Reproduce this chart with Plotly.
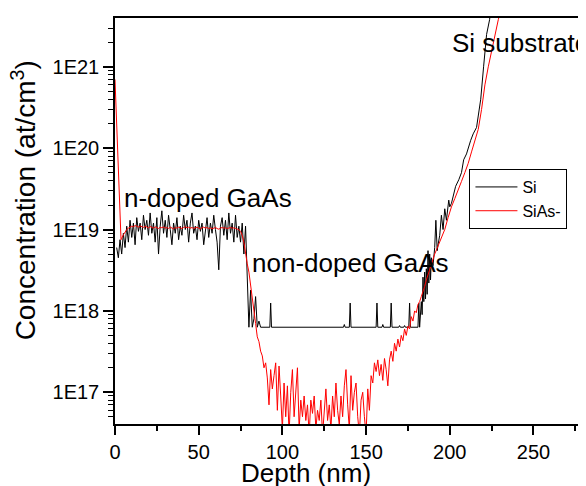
# SIMS depth profile: Si and SiAs- concentration vs depth, log scale
import plotly.graph_objects as go

# --- Si (black) ---
si_depth_doped = list(range(1, 80))
si_conc_doped = [6.0e18, 4.5e18, 7.5e18, 5.0e18, 9.0e18, 6.0e18, 1.1e19, 7.0e18, 1.3e19, 8.0e18,
                 1.2e19, 6.5e18, 1.4e19, 9.5e18, 1.2e19, 7.5e18, 1.5e19, 1.0e19, 1.3e19, 8.5e18,
                 1.6e19, 9.0e18, 1.2e19, 7.0e18, 1.4e19, 5.0e18, 1.1e19, 1.7e19, 9.0e18, 1.3e19,
                 8.0e18, 1.5e19, 1.0e19, 6.5e18, 1.2e19, 9.0e18, 1.4e19, 7.5e18, 1.1e19, 8.5e18,
                 1.5e19, 1.0e19, 1.3e19, 7.0e18, 1.2e19, 1.6e19, 9.0e18, 1.1e19, 7.5e18, 1.3e19,
                 9.5e18, 1.2e19, 6.5e18, 1.0e19, 1.4e19, 8.0e18, 1.2e19, 9.0e18, 1.5e19, 1.0e19,
                 7.0e18, 3.2e18, 1.1e19, 1.4e19, 8.5e18, 1.3e19, 7.5e18, 1.6e19, 9.0e18, 1.2e19,
                 7.0e18, 1.5e19, 8.0e18, 1.1e19, 7.0e18, 1.2e19, 5.0e18, 1.1e19, 3.0e18]

si_depth_floor = [80, 81, 82, 83, 84, 85, 86, 87, 92.5, 93,
                  93.5, 136.5, 137, 137.5, 140, 140.5, 141, 156, 156.5, 157,
                  159.5, 160, 160.5, 164.5, 165, 165.5, 169.5, 170, 170.5, 172.5,
                  173, 173.5, 175.5, 176, 176.5, 181, 181.5, 182]
si_conc_floor = [6.3e17, 1.8e18, 6.3e17, 8.0e17, 1.5e18, 6.3e17, 7.5e17, 6.3e17, 6.3e17, 1.25e18,
                 6.3e17, 6.3e17, 6.8e17, 6.3e17, 6.3e17, 1.25e18, 6.3e17, 6.3e17, 1.25e18, 6.3e17,
                 6.3e17, 6.8e17, 6.3e17, 6.3e17, 1.25e18, 6.3e17, 6.3e17, 6.6e17, 6.3e17, 6.3e17,
                 6.6e17, 6.3e17, 6.3e17, 1.25e18, 6.3e17, 6.3e17, 1.25e18, 6.3e17]

si_depth_rise = [183, 183.5, 184, 184.5, 185, 185.5, 186, 186.5, 187, 187.5,
                 188, 188.5, 189, 190, 191, 191.7, 192.5, 193, 194, 195,
                 196, 197, 198, 199.4, 200, 201, 202, 203.5, 205.4, 207,
                 208.3, 210, 212.5, 214, 216, 218.5, 220.2, 222, 223.8, 226]
si_conc_rise = [1.3e18, 9e17, 2.6e18, 1.3e18, 3.0e18, 1.4e18, 3.3e18, 1.6e18, 5.5e18, 2.2e18,
                5.0e18, 2.4e18, 4.5e18, 3.6e18, 6.0e18, 1.3e19, 5.5e18, 6.5e18, 8.5e18, 1.5e19,
                1.0e19, 1.8e19, 1.3e19, 2.3e19, 1.9e19, 2.1e19, 2.6e19, 3.4e19, 4.1e19, 5.0e19,
                7.2e19, 8.5e19, 1.25e20, 1.5e20, 1.8e20, 4.0e20, 1.0e21, 2.5e21, 3.8e21, 1e22]

# --- SiAs- (red) ---
sias_depth_surface = [0, 3.6]
sias_conc_surface = [7e20, 7.5e18]

sias_depth_main = list(range(4, 196))
sias_conc_main = [7.8e18, 8.6e18, 9.4e18, 1.0e19, 1.04e19, 1.08e19, 1.1e19, 1.08e19, 1.12e19, 1.1e19,
                  1.07e19, 1.11e19, 1.09e19, 1.06e19, 1.1e19, 1.08e19, 1.05e19, 1.09e19, 1.07e19, 1.04e19,
                  1.08e19, 1.06e19, 1.03e19, 1.07e19, 1.05e19, 1.08e19, 1.04e19, 1.06e19, 1.03e19, 1.07e19,
                  1.05e19, 1.02e19, 1.06e19, 1.04e19, 1.07e19, 1.05e19, 1.03e19, 1.06e19, 1.08e19, 1.05e19,
                  1.07e19, 1.04e19, 1.06e19, 1.03e19, 1.05e19, 1.07e19, 1.04e19, 1.02e19, 1.05e19, 1.07e19,
                  1.04e19, 1.06e19, 1.03e19, 1.05e19, 1.02e19, 1.04e19, 1.06e19, 1.03e19, 1.01e19, 1.04e19,
                  1.06e19, 1.04e19, 1.05e19, 1.03e19, 1.05e19, 1.06e19, 1.04e19, 1.05e19, 1.03e19, 1.02e19,
                  # 74-83
                  1.0e19, 9.5e18, 8.5e18, 7.0e18, 5.0e18, 3.8e18, 3.0e18, 2.0e18, 1.5e18, 1.0e18,
                  7e17, 4.8e17, 4.2e17, 3.2e17, 2.8e17, 2.0e17, 2.3e17, 1.5e17, 7e16, 1.9e17,
                  1.1e17, 1.6e17, 2.3e17, 6e16, 2.1e17, 9e16, 3.5e16, 1.3e17, 5e16, 1.2e17,
                  3e16, 1.0e17, 1.9e17, 5e16, 1.1e17, 2.0e17, 3.5e16, 8e16, 5e16, 9e16,
                  4.5e16, 7e16, 3e16, 8e16, 5.5e16, 9e16, 3.5e16, 6e16, 4.5e16, 8e16,
                  3e16, 6e16, 1.1e17, 4.5e16, 7e16, 3.5e16, 9e16, 5e16, 1.3e17, 6e16,
                  4e16, 9e16, 5e16, 1.2e17, 1.9e17, 7e16, 3.5e16, 1.6e17, 6e16, 1.0e17,
                  1.3e17, 5e16, 3e16, 8e16, 1.0e17, 5e16, 3e16, 1.1e17, 6e16, 1.6e17,
                  1.3e17, 2.3e17, 1.8e17, 2.5e17, 1.6e17, 2.2e17, 1.4e17, 2.6e17, 1.9e17, 1.2e17,
                  2.5e17, 3.2e17, 2.4e17, 4.0e17, 3.2e17, 4.5e17, 3.6e17, 5e17, 4.3e17, 6e17,
                  5e17, 6.5e17, 6e17, 8.5e17, 7.5e17, 1.0e18, 9.5e17, 1.2e18, 1.3e18, 1.5e18,
                  1.7e18, 2.0e18, 2.4e18, 2.8e18, 3.2e18, 3.8e18, 4.3e18, 5.0e18, 5.6e18, 6.3e18,
                  7.0e18, 7.6e18]

sias_depth_substrate = list(range(197, 234, 2))
sias_conc_substrate = [1.0e19, 1.4e19, 1.9e19, 2.4e19, 3.0e19, 3.9e19, 5.0e19, 6.5e19, 9e19, 1.25e20,
                       1.7e20, 3e20, 6e20, 1.0e21, 1.6e21, 2.5e21, 3.8e21, 5.5e21, 9e21]

y_tickvals = [1e17, 1e18, 1e19, 1e20, 1e21]
y_ticktext = ["1E17", "1E18", "1E19", "1E20", "1E21"]

FONT = "Liberation Sans, Arial, sans-serif"

fig = go.Figure()
fig.add_trace(go.Scatter(x=si_depth_doped + si_depth_floor + si_depth_rise,
                         y=si_conc_doped + si_conc_floor + si_conc_rise,
                         mode="lines", name="Si", line=dict(color="black", width=1)))
fig.add_trace(go.Scatter(x=sias_depth_surface + sias_depth_main + sias_depth_substrate,
                         y=sias_conc_surface + sias_conc_main + sias_conc_substrate,
                         mode="lines", name="SiAs-", line=dict(color="#ff0000", width=1)))

fig.update_xaxes(range=[0, 279], tickvals=[0, 50, 100, 150, 200, 250],
                 ticks="outside", ticklen=9, tickwidth=1.5, tickcolor="black",
                 minor=dict(ticks="outside", ticklen=5, tickwidth=1.5, tickcolor="black", dtick=25, tick0=0),
                 showline=True, linecolor="black", linewidth=1.5, mirror=True,
                 showgrid=False, zeroline=False,
                 tickfont=dict(size=20, color="black", family=FONT))
fig.update_yaxes(type="log", range=[16.61, 21.6], tickvals=y_tickvals, ticktext=y_ticktext,
                 ticks="outside", ticklen=10, tickwidth=1.5, tickcolor="black",
                 minor=dict(ticks="outside", ticklen=5, tickwidth=1, tickcolor="black", dtick="D1"),
                 showline=True, linecolor="black", linewidth=1.5, mirror=True,
                 showgrid=False, zeroline=False,
                 tickfont=dict(size=20, color="black", family=FONT))

labels = [("n-doped GaAs", 0.015, 0.557), ("non-doped GaAs", 0.29, 0.397), ("Si substrate", 0.717, 0.938)]
for txt, ax, ay in labels:
    fig.add_annotation(text=txt, x=ax, y=ay, xref="paper", yref="paper", xanchor="left", yanchor="middle",
                       showarrow=False, font=dict(size=26, color="black", family=FONT))

# axis titles placed as annotations (they sit off-centre in the reference)
fig.add_annotation(text="Concentration (at/cm<sup>3</sup>)", x=-0.196, y=0.552, xref="paper", yref="paper",
                   textangle=-90, showarrow=False, xanchor="center", yanchor="middle",
                   font=dict(size=28, color="black", family=FONT))
fig.add_annotation(text="Depth (nm)", x=0.409, y=-0.12, xref="paper", yref="paper",
                   showarrow=False, xanchor="center", yanchor="middle",
                   font=dict(size=26, color="black", family=FONT))

# page body adds an 8px offset, so the figure is 8px smaller than the window
fig.update_layout(width=578, height=478, margin=dict(l=107, r=2, t=10, b=62),
                  plot_bgcolor="white", paper_bgcolor="white",
                  legend=dict(x=0.759, y=0.628, xanchor="left", yanchor="top",
                              bgcolor="white", bordercolor="black", borderwidth=1,
                              itemwidth=42,
                              font=dict(size=16, color="black", family=FONT)))

fig.write_html("out.html")
